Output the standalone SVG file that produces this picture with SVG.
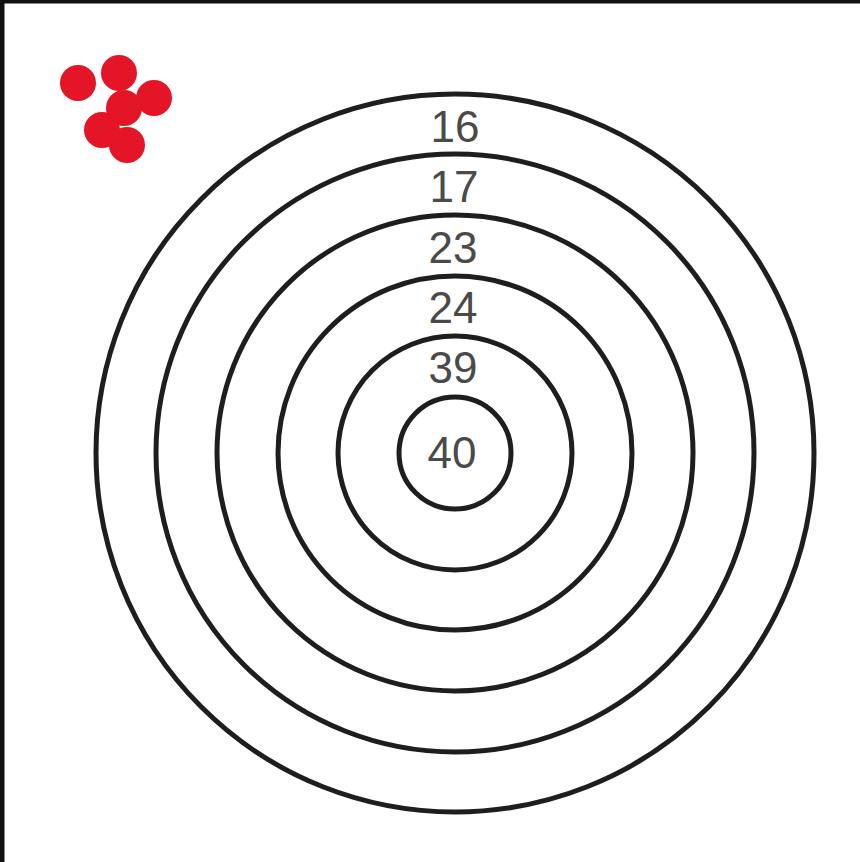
<svg xmlns="http://www.w3.org/2000/svg" width="860" height="862" viewBox="0 0 860 862">
<style>
.ring{fill:none;stroke:#1e1e1e;stroke-width:5}
.lbl{font-family:"Liberation Sans",Arial,sans-serif;font-size:44px;fill:#4a4a4a;text-anchor:middle}
.dot{fill:#e41526}
</style>
<rect x="0" y="0" width="860" height="862" fill="#ffffff"/>
<rect x="0" y="0" width="860" height="3.5" fill="#111"/>
<rect x="0" y="0" width="4.5" height="862" fill="#111"/>
<g id="dots">
<circle class="dot" cx="78" cy="83" r="18"/>
<circle class="dot" cx="119" cy="73" r="18"/>
<circle class="dot" cx="154" cy="98" r="18"/>
<circle class="dot" cx="124" cy="108" r="18"/>
<circle class="dot" cx="102" cy="130" r="18"/>
<circle class="dot" cx="127" cy="145" r="18"/>
</g>
<g id="ring16"><circle class="ring" cx="455" cy="453" r="359"/><text class="lbl" x="455" y="142">16</text></g>
<g id="ring17"><circle class="ring" cx="455" cy="453" r="299"/><text class="lbl" x="454" y="202">17</text></g>
<g id="ring23"><circle class="ring" cx="455" cy="453" r="238"/><text class="lbl" x="453" y="263">23</text></g>
<g id="ring24"><circle class="ring" cx="455" cy="453" r="177"/><text class="lbl" x="453" y="323">24</text></g>
<g id="ring39"><circle class="ring" cx="455" cy="453" r="117"/><text class="lbl" x="453" y="383">39</text></g>
<g id="ring40"><circle class="ring" cx="455" cy="453" r="56"/><text class="lbl" x="452" y="468">40</text></g>
</svg>
